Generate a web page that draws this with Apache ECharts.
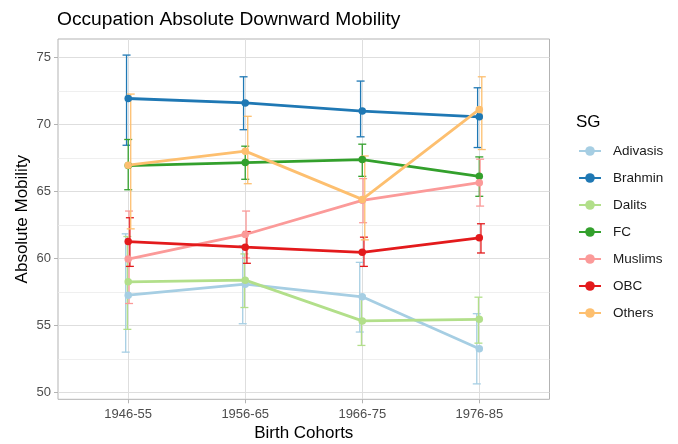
<!DOCTYPE html>
<html>
<head>
<meta charset="utf-8">
<script src="https://cdn.jsdelivr.net/npm/echarts@6/dist/echarts.min.js"></script>
<style>html,body{margin:0;padding:0;background:#fff;}#c{width:678px;height:444px;}</style>
</head>
<body>
<div id="c"></div>
<script>
var categories = ['1946-55', '1956-65', '1966-75', '1976-85'];
var groups = ['Adivasis', 'Brahmin', 'Dalits', 'FC', 'Muslims', 'OBC', 'Others'];
var colors = ['#A6CEE3', '#1F78B4', '#B2DF8A', '#33A02C', '#FB9A99', '#E31A1C', '#FDBF6F'];

var adivasisMean = [57.25, 58.07, 57.13, 53.25];
var adivasisLo   = [53.00, 55.12, 54.50, 50.63];
var adivasisHi   = [61.83, 60.95, 59.70, 55.87];

var brahminMean = [71.93, 71.60, 70.99, 70.56];
var brahminLo   = [68.44, 69.60, 69.07, 68.27];
var brahminHi   = [75.17, 73.55, 73.23, 72.73];

var dalitsMean = [58.25, 58.37, 55.33, 55.45];
var dalitsLo   = [54.70, 56.33, 53.50, 53.67];
var dalitsHi   = [61.63, 60.33, 57.20, 57.10];

var fcMean = [66.92, 67.15, 67.37, 66.12];
var fcLo   = [65.12, 65.90, 66.12, 64.63];
var fcHi   = [68.87, 68.37, 68.52, 67.57];

var muslimsMean = [59.95, 61.78, 64.33, 65.65];
var muslimsLo   = [56.63, 60.03, 62.66, 63.90];
var muslimsHi   = [63.53, 63.53, 65.95, 67.40];

var obcMean = [61.25, 60.83, 60.45, 61.53];
var obcLo   = [59.40, 59.63, 59.40, 60.40];
var obcHi   = [63.03, 62.00, 61.58, 62.58];

var othersMean = [66.95, 68.00, 64.40, 71.11];
var othersLo   = [62.20, 65.57, 61.38, 68.12];
var othersHi   = [72.26, 70.60, 67.64, 73.55];

var yMajorTicks = [50, 55, 60, 65, 70, 75];
var yMinorTicks = [52.5, 57.5, 62.5, 67.5, 72.5];

var means = [adivasisMean, brahminMean, dalitsMean, fcMean, muslimsMean, obcMean, othersMean];
var los = [adivasisLo, brahminLo, dalitsLo, fcLo, muslimsLo, obcLo, othersLo];
var his = [adivasisHi, brahminHi, dalitsHi, fcHi, muslimsHi, obcHi, othersHi];

var FONT = 'Liberation Sans, Arial, Helvetica, sans-serif';
var dodge = 0.05;
var series = [];

groups.forEach(function (g, gi) {
  var off = (gi - (groups.length - 1) / 2) * dodge / groups.length;
  var ebData = categories.map(function (c, ci) {
    return [ci + 1 + off, los[gi][ci], his[gi][ci]];
  });
  series.push({
    name: 'eb_' + g,
    type: 'custom',
    data: ebData,
    z: 3,
    silent: true,
    renderItem: function (params, api) {
      var x = api.value(0);
      var p1 = api.coord([x, api.value(1)]);
      var p2 = api.coord([x, api.value(2)]);
      var hw = 4;
      var st = { stroke: colors[gi], lineWidth: 1.3 };
      return {
        type: 'group',
        children: [
          { type: 'line', shape: { x1: p1[0], y1: p1[1], x2: p2[0], y2: p2[1] }, style: st },
          { type: 'line', shape: { x1: p1[0] - hw, y1: p1[1], x2: p1[0] + hw, y2: p1[1] }, style: st },
          { type: 'line', shape: { x1: p2[0] - hw, y1: p2[1], x2: p2[0] + hw, y2: p2[1] }, style: st }
        ]
      };
    }
  });
});

groups.forEach(function (g, gi) {
  series.push({
    name: g,
    type: 'line',
    data: categories.map(function (c, ci) { return [ci + 1, means[gi][ci]]; }),
    symbol: 'circle',
    symbolSize: 7.5,
    showSymbol: true,
    z: 4,
    lineStyle: { color: colors[gi], width: 2.8 },
    itemStyle: { color: colors[gi] },
    emphasis: { disabled: true }
  });
});

var chart = echarts.init(document.getElementById('c'), null, { renderer: 'canvas' });
chart.setOption({
  animation: false,
  backgroundColor: '#ffffff',
  title: {
    text: 'Occupation Absolute Downward Mobility',
    left: 52, top: 5,
    textStyle: { fontFamily: FONT, fontSize: 19.2, fontWeight: 'normal', color: '#000000' }
  },
  graphic: [{
    type: 'text', left: 576, top: 114,
    style: { text: 'SG', fontFamily: FONT, fontSize: 17, fill: '#000000' }
  }],
  legend: {
    orient: 'vertical',
    left: 573, top: 139,
    itemWidth: 22, itemHeight: 12, itemGap: 13,
    data: groups,
    textStyle: { fontFamily: FONT, fontSize: 13.5, color: '#1a1a1a', padding: [0, 0, 0, 7] }
  },
  grid: {
    left: 58, top: 39, width: 491.5, height: 360.3,
    outerBoundsMode: 'none',
    containLabel: false,
    show: true, borderColor: '#b3b3b3', borderWidth: 1, backgroundColor: 'transparent'
  },
  xAxis: {
    type: 'value', min: 0.4, max: 4.6,
    name: 'Birth Cohorts', nameLocation: 'middle', nameGap: 26, nameMoveOverlap: false,
    nameTextStyle: { fontFamily: FONT, fontSize: 17, color: '#000000' },
    axisLine: { show: false },
    axisTick: { show: true, customValues: [1, 2, 3, 4], length: 4, lineStyle: { color: '#b3b3b3' } },
    axisLabel: {
      customValues: [1, 2, 3, 4], margin: 9,
      fontFamily: FONT, fontSize: 13, color: '#4d4d4d',
      formatter: function (v) { return categories[Math.round(v) - 1]; }
    },
    splitLine: { show: true, lineStyle: { color: '#dedede', width: 1 } }
  },
  yAxis: [{
    type: 'value', min: 49.48, max: 76.37,
    name: 'Absolute Mobility', nameLocation: 'middle', nameGap: 27, nameRotate: 90, nameMoveOverlap: false,
    nameTextStyle: { fontFamily: FONT, fontSize: 17, color: '#000000' },
    axisLine: { show: false },
    axisTick: { show: true, customValues: yMajorTicks, length: 4, lineStyle: { color: '#b3b3b3' } },
    axisLabel: { customValues: yMajorTicks, margin: 7, fontFamily: FONT, fontSize: 13, color: '#4d4d4d' },
    splitLine: { show: true, lineStyle: { color: '#dedede', width: 1 } }
  }, {
    type: 'value', min: 49.48, max: 76.37, position: 'left',
    axisLine: { show: false },
    axisTick: { show: false, customValues: yMinorTicks },
    axisLabel: { show: false, customValues: yMinorTicks },
    splitLine: { show: true, lineStyle: { color: '#ebebeb', width: 0.8 } }
  }],
  series: series
});
</script>
</body>
</html>
